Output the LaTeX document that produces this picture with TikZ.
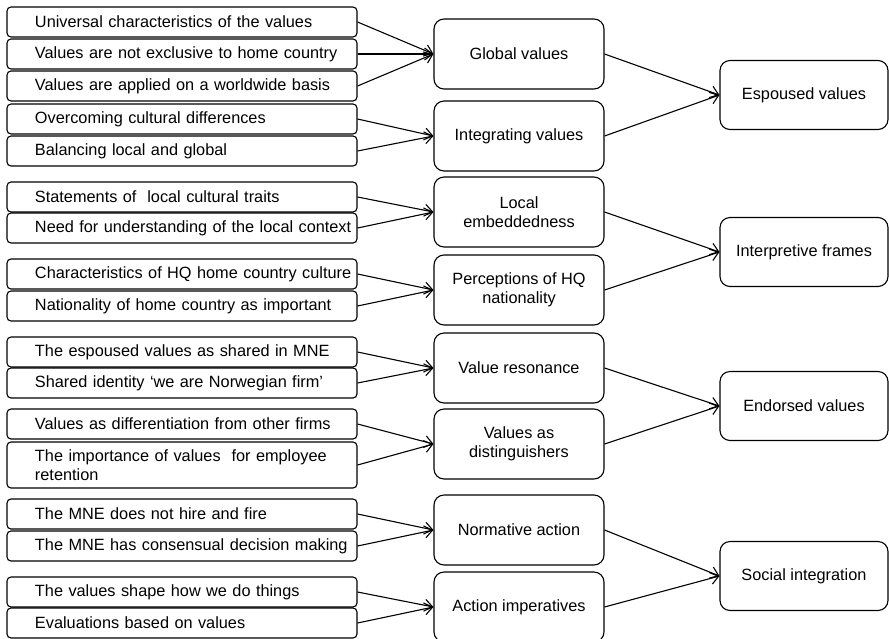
\documentclass[tikz,border=0pt]{standalone}
\usepackage{fontspec}
\setmainfont{Liberation Sans}
\usetikzlibrary{arrows.meta}

\tikzset{
  leaf/.style={draw, rounded corners=4pt, line width=1.1pt, text width=342pt,
    inner xsep=4pt, inner ysep=5pt, align=left,
    execute at begin node={\leftskip=24pt}},
  theme/.style={draw, rounded corners=10pt, line width=1.1pt, minimum width=170pt,
    minimum height=70pt, align=center, inner sep=0pt},
  dimension/.style={theme, minimum width=168pt, minimum height=69pt},
  arr/.style={line width=1.1pt, -{Straight Barb[length=8pt,width=12pt]}}
}

\begin{document}
\begin{tikzpicture}[x=1pt, y=-1pt, font=\fontsize{16.3pt}{19pt}\selectfont]
    \useasboundingbox (0,0) rectangle (889,638);

    % First-order codes
    \foreach \n/\y/\h/\txt in {
        1/22/30/Universal characteristics of the values,
        2/54/30/Values are not exclusive to home country,
        3/86/30/Values are applied on a worldwide basis,
        4/119/30/Overcoming cultural differences,
        5/151/30/Balancing local and global,
        6/197/30/{Statements of\ \ local cultural traits},
        7/228/30/Need for understanding of the local context,
        8/274/30/Characteristics of HQ home country culture,
        9/306/30/Nationality of home country as important,
        10/352/30/The espoused values as shared in MNE,
        11/383/30/Shared identity ‘we are Norwegian firm’,
        12/424/30/Values as differentiation from other firms,
        13/465/46/{The importance of values\ \ for employee\\retention},
        14/514/30/The MNE does not hire and fire,
        15/546/30/The MNE has consensual decision making,
        16/592/30/The values shape how we do things,
        17/623/30/Evaluations based on values} {
        \node[leaf, minimum height=\h] (l\n) at (182,\y) {\txt};
    }

    % Second-order themes
    \foreach \n/\y/\txt in {
        1/54/Global values,
        2/136/Integrating values,
        3/212/{Local\\embeddedness},
        4/290/{Perceptions of HQ\\nationality},
        5/368/Value resonance,
        6/444/{Values as\\distinguishers},
        7/530/Normative action,
        8/607/Action imperatives} {
        \node[theme] (m\n) at (519,\y) {\txt};
    }

    % Aggregate dimensions
    \foreach \n/\y/\txt in {
        1/95/Espoused values,
        2/252/Interpretive frames,
        3/406/Endorsed values,
        4/576/Social integration} {
        \node[dimension] (r\n) at (804,\y) {\txt};
    }

    % Links
    \foreach \a/\b in {1/1, 2/1, 3/1, 4/2, 5/2, 6/3, 7/3, 8/4, 9/4,
                       10/5, 11/5, 12/6, 13/6, 14/7, 15/7, 16/8, 17/8} {
        \draw[arr] (l\a.east) -- (m\b.west);
    }
    \foreach \a/\b in {1/1, 2/1, 3/2, 4/2, 5/3, 6/3, 7/4, 8/4} {
        \draw[arr] (m\a.east) -- (r\b.west);
    }
\end{tikzpicture}
\end{document}
